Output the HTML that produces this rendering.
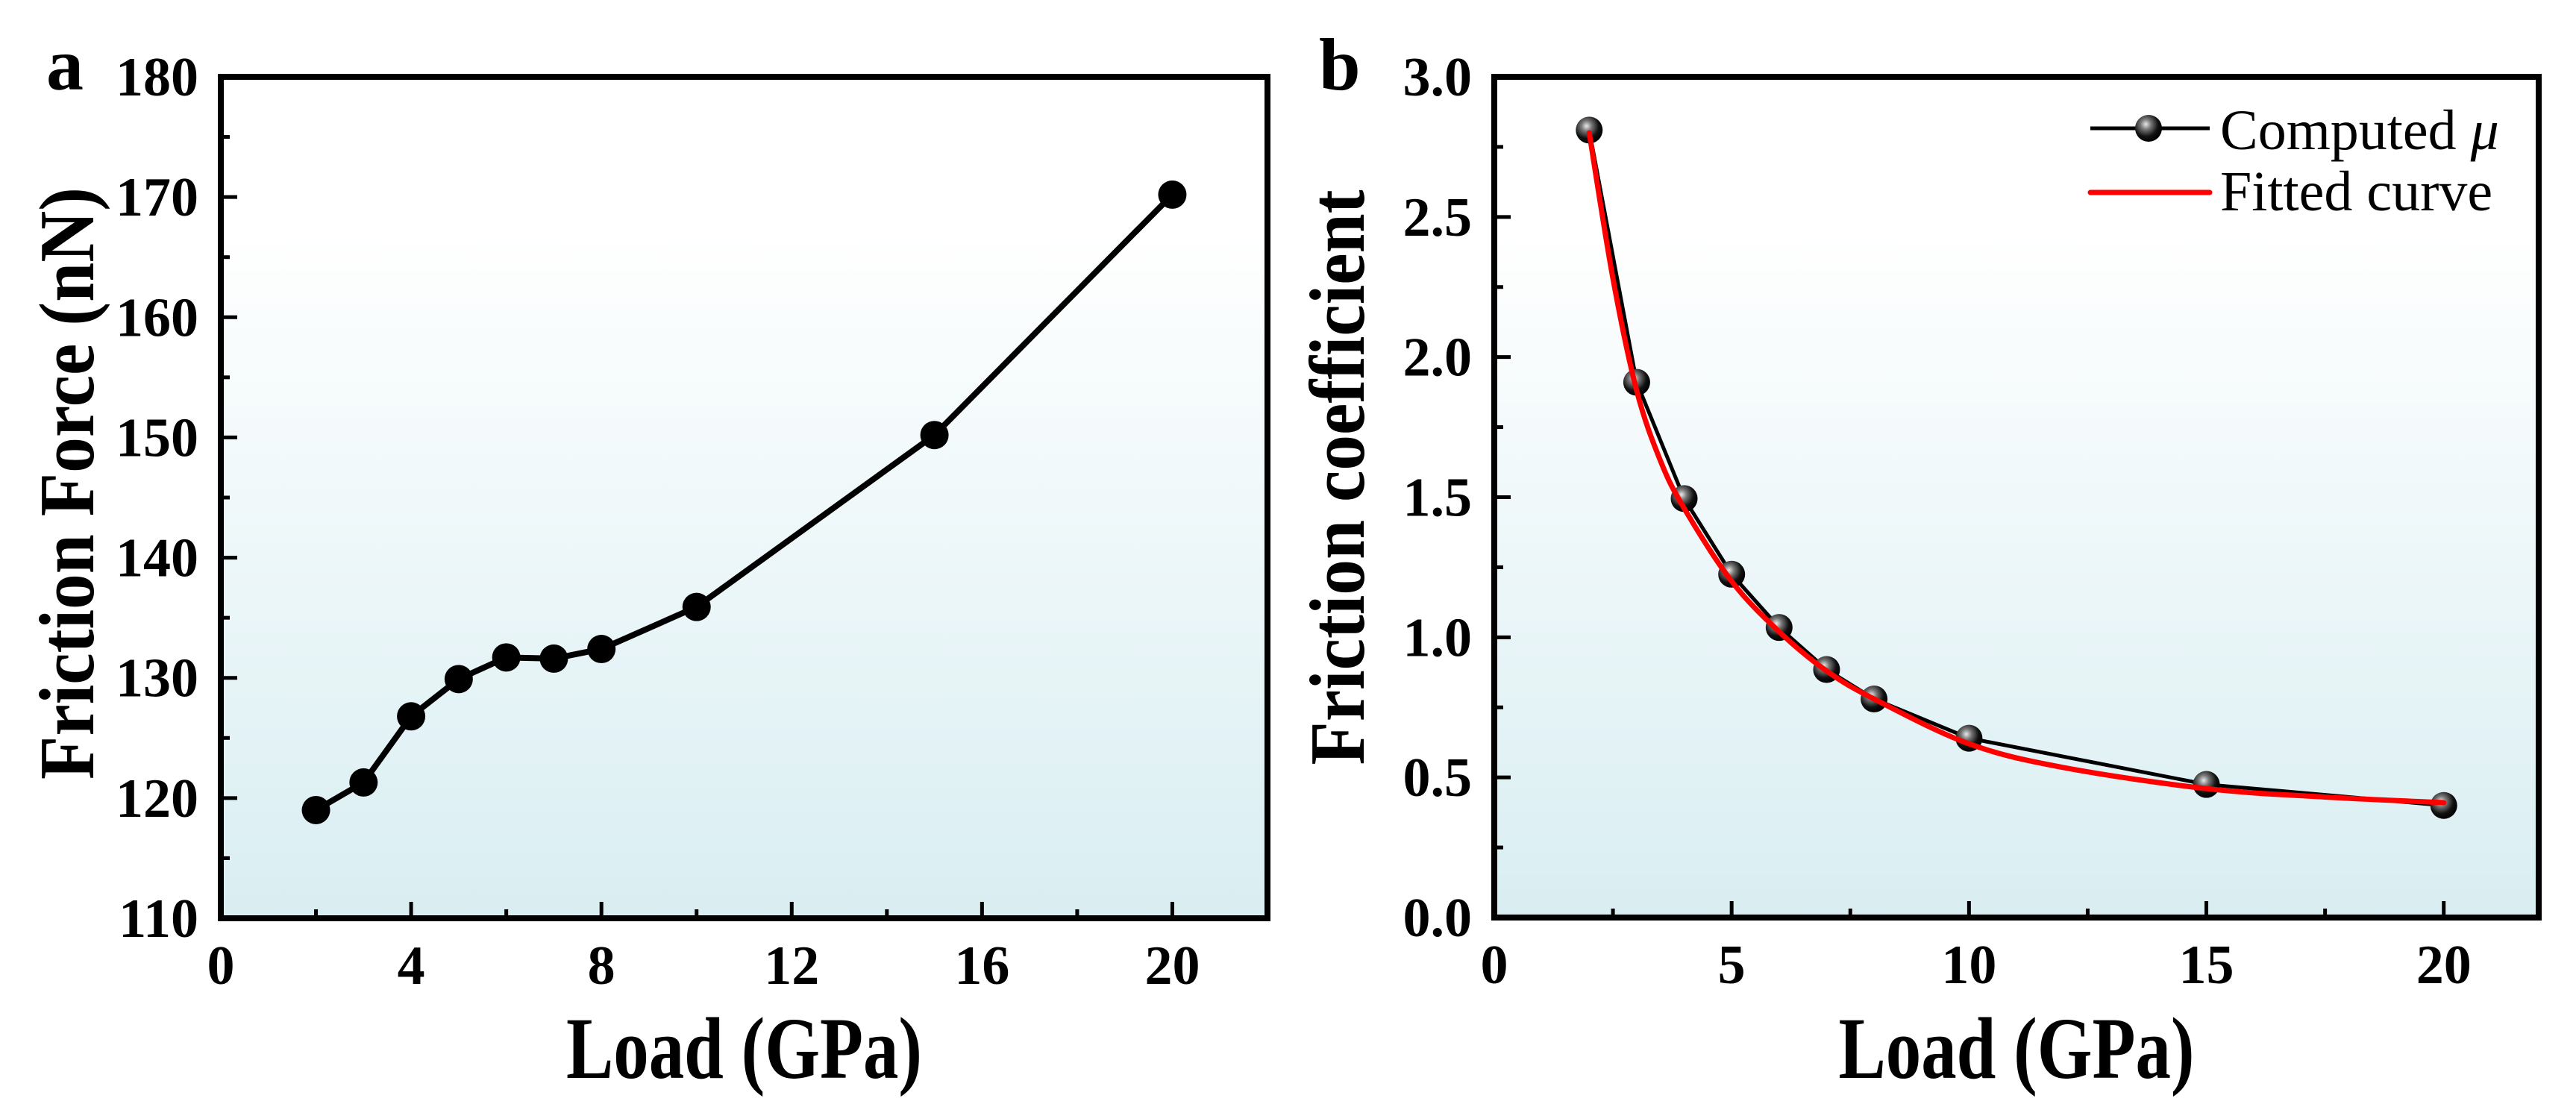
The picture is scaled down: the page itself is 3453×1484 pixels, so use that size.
<!DOCTYPE html>
<html><head><meta charset="utf-8">
<style>
html,body{margin:0;padding:0;background:#fff;}
svg{display:block;}
text{font-family:"Liberation Serif",serif;fill:#000;}
.b{font-weight:bold;}
</style></head>
<body>
<svg id="fig" width="3453" height="1484" viewBox="0 0 3453 1484" xmlns="http://www.w3.org/2000/svg">
<defs>
<linearGradient id="bg" x1="0" y1="0" x2="0" y2="1">
<stop offset="0" stop-color="#ffffff"/><stop offset="0.18" stop-color="#ffffff"/><stop offset="1" stop-color="#d9eef2"/>
</linearGradient>
<radialGradient id="ball" cx="0.4" cy="0.35" r="0.65">
<stop offset="0" stop-color="#e8e8e8"/><stop offset="0.3" stop-color="#777"/><stop offset="0.7" stop-color="#111"/><stop offset="1" stop-color="#000"/>
</radialGradient>
</defs>
</svg>
<script>
// Panel a data
const loadA = [2,3,4,5,6,7,8,10,15,20];
const forceA = [119,121.3,126.8,129.9,131.7,131.6,132.4,135.9,150.2,170.2];
const xTicksA = [0,4,8,12,16,20];
const yTicksA = [110,120,130,140,150,160,170,180];
// Panel b data
const loadB = [2,3,4,5,6,7,8,10,15,20];
const muB = [2.81,1.91,1.495,1.225,1.035,0.885,0.78,0.64,0.475,0.40];
const fitX = [2,2.5,3,3.5,4,5,6,7,8,10,12,15,17.5,20];
const fitY = [2.80,2.28,1.88,1.63,1.46,1.20,1.02,0.88,0.78,0.62,0.535,0.46,0.43,0.41];
const xTicksB = [0,5,10,15,20];
const yTicksB = ["0.0","0.5","1.0","1.5","2.0","2.5","3.0"];

const NS="http://www.w3.org/2000/svg";
const svg=document.getElementById('fig');
function mk(tag,attrs,parent){const e=document.createElementNS(NS,tag);for(const k in attrs)e.setAttribute(k,attrs[k]);(parent||svg).appendChild(e);return e;}

function panel(o){
  const g=mk('g',{});
  
  
  const sx=v=>o.L+(v-o.x0)/(o.x1-o.x0)*(o.R-o.L);
  const sy=v=>o.B-(v-o.y0)/(o.y1-o.y0)*(o.B-o.T);
  const bgR=mk('rect',{x:o.L,y:o.T,width:o.R-o.L,height:o.B-o.T,fill:'url(#bg)'},g);
  
  
  const tg=mk('g',{stroke:'#000','stroke-width':5},g);
  for(let v=o.x0;v<=o.x1+1e-9;v+=o.xMinor){
    const major=Math.abs(v/o.xMajor-Math.round(v/o.xMajor))<1e-6;
    const len=major?22:12;
    mk('line',{x1:sx(v),x2:sx(v),y1:o.B,y2:o.B-len},tg);
  }
  for(let v=o.y0;v<=o.y1+1e-9;v+=o.yMinor){
    const major=Math.abs(v/o.yMajor-Math.round(v/o.yMajor))<1e-6;
    const len=major?22:12;
    mk('line',{x1:o.L,x2:o.L+len,y1:sy(v),y2:sy(v)},tg);
  }
  o.xTicks.forEach(v=>{
    const t=mk('text',{x:sx(+v),y:o.B+88,'text-anchor':'middle','font-size':74,class:'b'},g);
    t.textContent=v;
    
    
  });
  o.yTicks.forEach(v=>{
    const t=mk('text',{x:o.L-30,y:sy(+v)+25,'text-anchor':'end','font-size':74,class:'b'},g);
    t.textContent=v;
    
    
  });
  const xt=mk('text',{x:(o.L+o.R)/2,y:1445,'text-anchor':'middle','font-size':118,class:'b',textLength:o.xtLen,lengthAdjust:'spacingAndGlyphs'},g);
  xt.textContent='Load (GPa)';
  
  
  const yt=mk('text',{x:0,y:0,'text-anchor':'middle','font-size':105,class:'b',textLength:o.ytLen,lengthAdjust:'spacingAndGlyphs',transform:`translate(${o.ytX},${o.ytY}) rotate(-90)`},g);
  yt.textContent=o.ytitle;
  
  
  const pl=mk('text',{x:o.lblX,y:120,'font-size':100,class:'b'},g);
  pl.textContent=o.label;
  
  
  return {g,sx,sy,o};
}

const A=panel({name:'panel-a',L:296,R:1699,T:103,B:1231,x0:0,x1:22,y0:110,y1:180,xMajor:4,xMinor:2,yMajor:10,yMinor:5,
  xTicks:xTicksA,yTicks:yTicksA,ytitle:'Friction Force (nN)',ytX:125,ytY:648,ytLen:794,xtLen:477,label:'a',lblX:62});
{
  const pts=loadA.map((x,i)=>A.sx(x)+','+A.sy(forceA[i])).join(' ');
  const ln=mk('polyline',{points:pts,fill:'none',stroke:'#000','stroke-width':8,'stroke-linejoin':'round'},A.g);
  
  
  loadA.forEach((x,i)=>{
    const c=mk('circle',{cx:A.sx(x),cy:A.sy(forceA[i]),r:19,fill:'#000'},A.g);
    
    
  });
}
mk('rect',{x:296,y:103,width:1403,height:1128,fill:'none',stroke:'#000','stroke-width':8},A.g);

const Bp=panel({name:'panel-b',L:2003,R:3403,T:103,B:1230,x0:0,x1:22,y0:0,y1:3,xMajor:5,xMinor:2.5,yMajor:0.5,yMinor:0.25,
  xTicks:xTicksB,yTicks:yTicksB,ytitle:'Friction coefficient',ytX:1828,ytY:640,ytLen:771,xtLen:477,label:'b',lblX:1768});
{
  const pts=loadB.map((x,i)=>Bp.sx(x)+','+Bp.sy(muB[i])).join(' ');
  const ln=mk('polyline',{points:pts,fill:'none',stroke:'#000','stroke-width':5,'stroke-linejoin':'round'},Bp.g);
  
  
  loadB.forEach((x,i)=>{
    const c=mk('circle',{cx:Bp.sx(x),cy:Bp.sy(muB[i]),r:18,fill:'url(#ball)'},Bp.g);
    
    
  });
  const P=fitX.map((x,i)=>[Bp.sx(x),Bp.sy(fitY[i])]);
  let d='M'+P[0][0]+','+P[0][1];
  for(let i=0;i<P.length-1;i++){
    const p0=P[Math.max(i-1,0)],p1=P[i],p2=P[i+1],p3=P[Math.min(i+2,P.length-1)];
    const c1=[p1[0]+(p2[0]-p0[0])/6,p1[1]+(p2[1]-p0[1])/6];
    const c2=[p2[0]-(p3[0]-p1[0])/6,p2[1]-(p3[1]-p1[1])/6];
    d+=` C${c1[0]},${c1[1]} ${c2[0]},${c2[1]} ${p2[0]},${p2[1]}`;
  }
  const fc=mk('path',{d:d,fill:'none',stroke:'#ff0000','stroke-width':7,'stroke-linecap':'round'},Bp.g);
  
  
  const lg=mk('g',{},Bp.g);
  
  
  const e1=mk('g',{},lg);
  
  
  mk('line',{x1:2802,x2:2962,y1:172,y2:172,stroke:'#000','stroke-width':5},e1);
  mk('circle',{cx:2880,cy:172,r:18,fill:'url(#ball)'},e1);
  const t1=mk('text',{x:2976,y:200,'font-size':76},e1);
  t1.innerHTML='Computed <tspan font-style="italic">μ</tspan>';
  const e2=mk('g',{},lg);
  
  
  mk('line',{x1:2802,x2:2962,y1:258,y2:258,stroke:'#ff0000','stroke-width':7,'stroke-linecap':'round'},e2);
  const t2=mk('text',{x:2976,y:282,'font-size':76},e2);
  t2.textContent='Fitted curve';
}
mk('rect',{x:2003,y:103,width:1400,height:1127,fill:'none',stroke:'#000','stroke-width':8},Bp.g);
</script>
</body></html>
